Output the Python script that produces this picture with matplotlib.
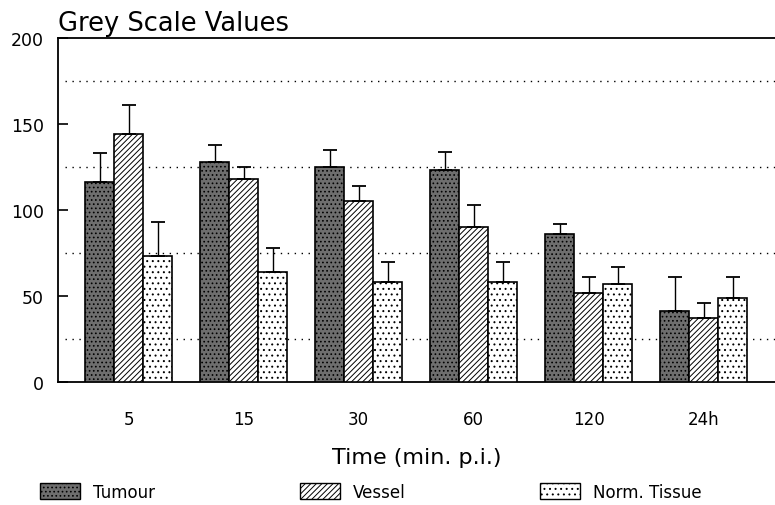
import numpy as np
import matplotlib
matplotlib.use("Agg")
import matplotlib.pyplot as plt
from matplotlib.patches import Patch

times = ["5", "15", "30", "60", "120", "24h"]
tumour = [116, 128, 125, 123, 86, 41]
tumour_err = [17, 10, 10, 11, 6, 20]
vessel = [144, 118, 105, 90, 52, 37]
vessel_err = [17, 7, 9, 13, 9, 9]
tissue = [73, 64, 58, 58, 57, 49]
tissue_err = [20, 14, 12, 12, 10, 12]
grid_levels = [25, 75, 125, 175]

plt.rcParams["font.family"] = ["DejaVu Sans"]
plt.rcParams["hatch.linewidth"] = 0.7

fig = plt.figure(figsize=(7.75, 5.06), dpi=100)
ax = fig.add_axes([58 / 775, 123 / 506, 1 - 58 / 775, 344 / 506])

x = np.arange(len(times))
w = 0.252
series = [
    (tumour, tumour_err, "#6e6e6e", "....", "Tumour"),
    (vessel, vessel_err, "white", "//////", "Vessel"),
    (tissue, tissue_err, "white", "...", "Norm. Tissue"),
]
handles = []
for i, (vals, err, fc, hatch, name) in enumerate(series):
    pos = x + (i - 1) * w
    ax.bar(pos, vals, width=w, facecolor=fc, edgecolor="black", hatch=hatch,
           linewidth=1.2, zorder=3)
    ax.errorbar(pos, vals, yerr=[np.zeros(len(err)), err], fmt="none",
                ecolor="black", elinewidth=1.0, capsize=5, capthick=1.3, zorder=4)
    handles.append(Patch(facecolor=fc, edgecolor="black", hatch=hatch, linewidth=1.0, label=name))

for g in grid_levels:
    ax.axhline(g, xmin=0.01, color="black", linestyle=(0, (1, 4)), linewidth=1.0, zorder=1)

ax.set_xlim(-0.613, 5.62)
ax.set_ylim(0, 200)
ax.set_yticks([0, 50, 100, 150, 200])
ax.set_xticks(x)
ax.set_xticklabels(times)
ax.tick_params(axis="y", direction="in", length=7, width=1.2, labelsize=12.5, pad=10)
ax.tick_params(axis="x", length=0, labelsize=12, pad=20)
ax.spines["right"].set_visible(False)
for s in ["left", "bottom", "top"]:
    ax.spines[s].set_linewidth(1.3)

ax.set_xlabel("Time (min. p.i.)", fontsize=16, labelpad=14)
fig.text(58 / 775, 1 - 31 / 506, "Grey Scale Values", fontsize=18.5, ha="left", va="baseline")

# one legend per entry, placed where the reference puts them
for h, x0 in zip(handles, [40, 300, 540]):
    fig.legend(handles=[h], loc="center left", bbox_to_anchor=(x0 / 775, 1 - 493 / 506),
               frameon=False, fontsize=12, handlelength=2.4, handleheight=1.1,
               handletextpad=0.8, borderpad=0, borderaxespad=0)

fig.savefig("out.png", dpi=100)
